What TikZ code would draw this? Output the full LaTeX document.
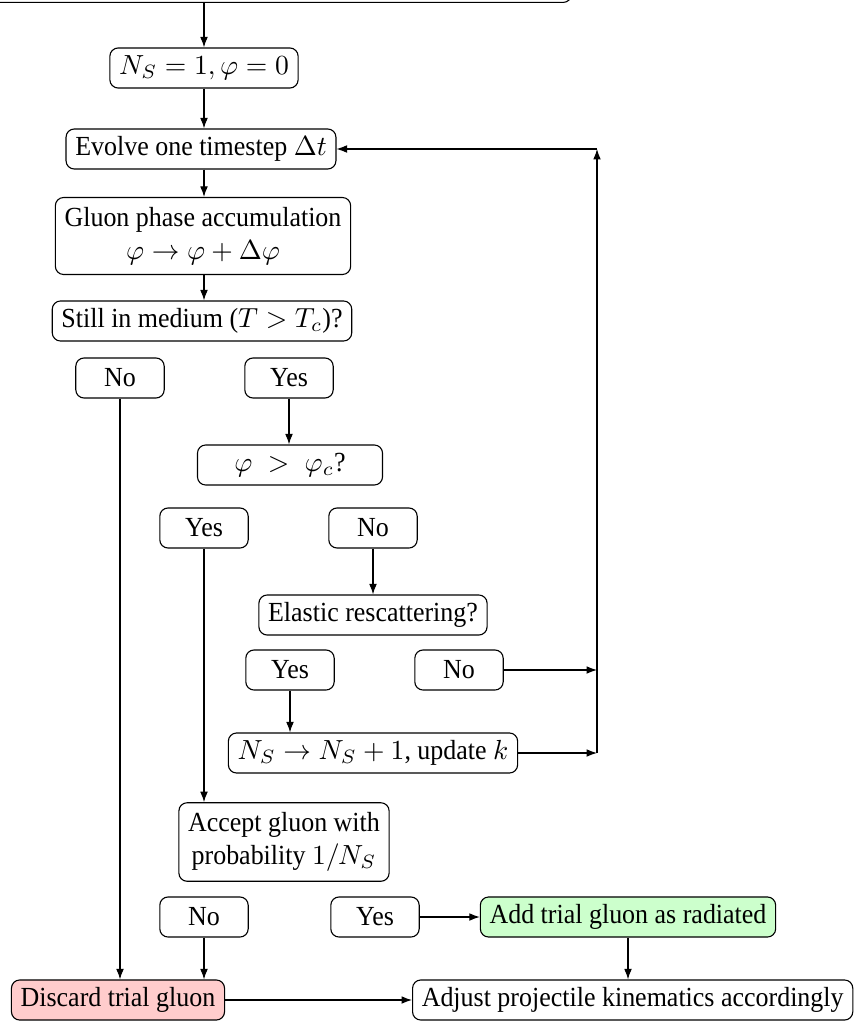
\documentclass[tikz,border=0pt]{standalone}
\usepackage[no-math]{fontspec}
\setmainfont[FakeStretch=0.94]{Liberation Serif}
\usetikzlibrary{arrows.meta}

\begin{document}
\begin{tikzpicture}[x=0.362pt, y=-0.362pt,
        box/.style={draw, rounded corners=3pt, align=center, minimum height=14.5pt, inner ysep=2pt},
        answer/.style={box, minimum width=32pt},
        >={Latex[length=3.8pt,width=2.8pt]}]
    \useasboundingbox (0,0) rectangle (858,1022);
    \clip (0,0) rectangle (858,1022);
    % upper part of the loop
    \node[box, anchor=south east, minimum width=240pt, minimum height=30pt] (init) at (572,3) {};
    \node[box] (start) at (204,68) {$N_S = 1, \varphi = 0$};
    \node[box] (evolve) at (201,149) {Evolve one timestep $\Delta t$};
    \node[box, inner ysep=3.5pt] (phase) at (203,236) {Gluon phase accumulation\\ $\varphi \rightarrow \varphi + \Delta\varphi$};
    \node[box] (medium) at (202,321) {Still in medium ($T > T_c$)?};
    \node[answer] (no1) at (120,378) {No};
    \node[answer] (yes1) at (289,378) {Yes};
    \node[box, minimum width=67pt] (phic) at (290,465) {$\varphi\;>\;\varphi_c$?};
    \node[answer] (yes2) at (204,528) {Yes};
    \node[answer] (no2) at (373,528) {No};
    \node[box] (elastic) at (373,615) {Elastic rescattering?};
    \node[answer] (yes3) at (290,670) {Yes};
    \node[answer] (no3) at (459,670) {No};
    \node[box] (update) at (373,753) {$N_S \rightarrow N_S + 1$, update $k$};
    % acceptance
    \node[box, inner ysep=3.5pt] (accept) at (284,842) {Accept gluon with\\ probability $1/N_S$};
    \node[answer] (no4) at (204,917) {No};
    \node[answer] (yes4) at (375,917) {Yes};
    \node[box, fill=green!20] (radiated) at (628,917) {Add trial gluon as radiated};
    \node[box, fill=red!20] (discard) at (118,1000) {Discard trial gluon};
    \node[box, anchor=west] (adjust) at (412,1000) {Adjust projectile kinematics accordingly};
    \coordinate (loop) at (597,149);

    \draw[->] (init.south -| start.north) -- (start.north);
    \draw[->] (start) -- (start |- evolve.north);
    \draw[->] (start |- evolve.south) -- (start |- phase.north);
    \draw[->] (start |- phase.south) -- (start |- medium.north);
    \draw[->] (yes1) -- (yes1 |- phic.north);
    \draw[->] (no2) -- (elastic);
    \draw[->] (yes3) -- (yes3 |- update.north);
    \draw[->] (no3) -- (no3 -| loop);
    \draw[->] (update) -- (update -| loop);
    \draw[->] (update -| loop) -- (loop);
    \draw[->] (loop) -- (evolve);
    \draw[->] (yes2) -- (yes2 |- accept.north);
    \draw[->] (no1) -- (no1 |- discard.north);
    \draw[->] (no4) -- (no4 |- discard.north);
    \draw[->] (yes4) -- (radiated);
    \draw[->] (radiated) -- (radiated |- adjust.north);
    \draw[->] (discard) -- (adjust);
\end{tikzpicture}
\end{document}
